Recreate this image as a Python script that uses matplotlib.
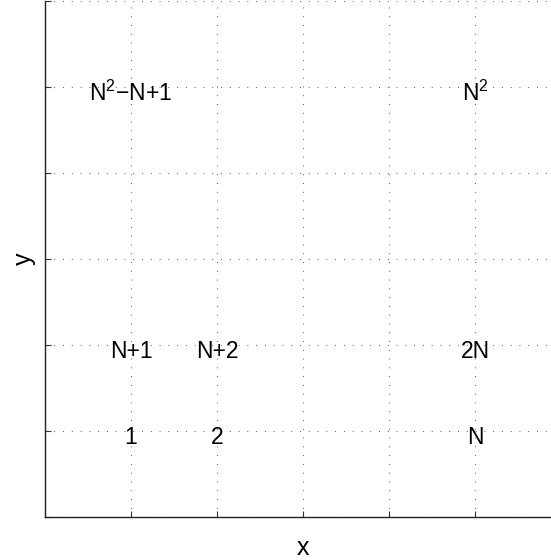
import matplotlib.pyplot as plt

plt.rcParams["font.family"] = ["Liberation Sans", "DejaVu Sans"]
plt.rcParams["mathtext.fontset"] = "custom"
plt.rcParams["mathtext.rm"] = "Liberation Sans"

# grid cells labelled with their linear index (N columns per row)
col_pos = [1, 2, 5, 1, 2, 5, 1, 5]
row_pos = [1, 1, 1, 2, 2, 2, 5, 5]
cell_labels = ["1", "2", "N", "N+1", "N+2", "2N", r"N$^2$$-$N+1", r"N$^2$"]
grid_ticks = [0, 1, 2, 3, 4, 5, 6]

fig = plt.figure(figsize=(5.51, 5.60), dpi=100)
ax = fig.add_axes([45 / 551, 43 / 560, 516 / 551, 516 / 560])
ax.set_xlim(0, 6)
ax.set_ylim(0, 6)

ax.set_xticks(grid_ticks)
ax.set_yticks(grid_ticks)
ax.set_xticklabels([])
ax.set_yticklabels([])
ax.tick_params(direction="in", length=4, width=0.8, color="#333333")
ax.grid(True, color="#555555", linewidth=0.8, linestyle=(0, (0.8, 7.1)))

for side in ("top", "right"):
    ax.spines[side].set_visible(False)
for side in ("left", "bottom"):
    ax.spines[side].set_linewidth(1.0)
    ax.spines[side].set_color("#222222")

for cx, cy, lab in zip(col_pos, row_pos, cell_labels):
    ax.text(cx, cy - 0.07, lab, ha="center", va="center", fontsize=16.5, color="black")

ax.set_xlabel("x", fontsize=18, labelpad=10)
ax.set_ylabel("y", fontsize=18, labelpad=3)

fig.savefig("out.png", dpi=100)
